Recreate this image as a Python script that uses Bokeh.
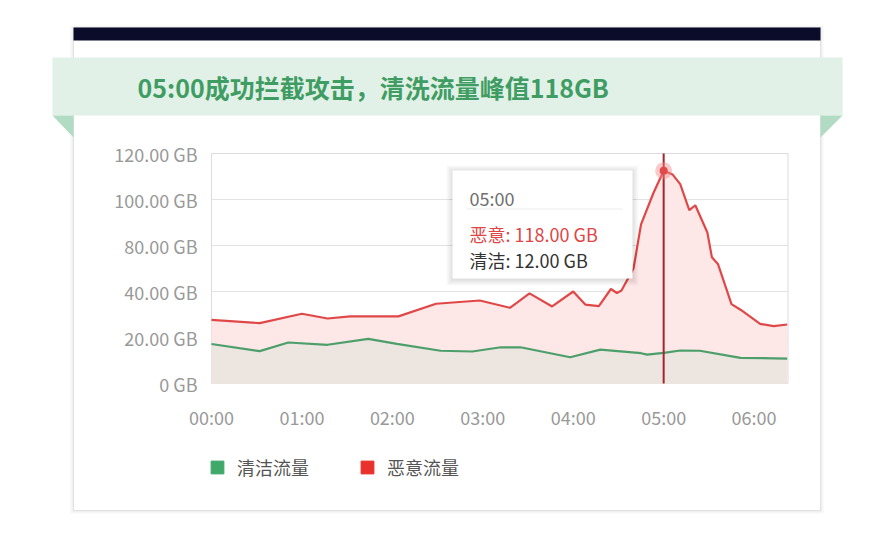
from bokeh.plotting import figure
from bokeh.models import (Legend, LegendItem, FixedTicker, Range1d, LinearAxis)
from bokeh.core.properties import value
from bokeh.embed import file_html
from bokeh.resources import INLINE

FONT = "Noto Sans CJK SC"

# traffic (minutes after 00:00, GB)
bad_minutes = [0, 32, 60, 77, 92, 124, 149, 178, 198, 211, 226, 240, 248, 257, 265, 269, 272,
               280, 285, 293, 300, 306, 311, 317, 321, 329, 332, 336, 345, 351, 364, 373, 382]
bad_gb = [33.2, 31.5, 36.4, 33.9, 35.0, 35.0, 41.6, 43.3, 39.5, 47.0, 40.2, 48.0, 41.2, 40.4,
          49.3, 47.2, 48.5, 60.0, 83.0, 99.0, 111.0, 109.0, 104.0, 90.5, 93.0, 78.8, 65.9, 62.4,
          41.4, 38.5, 31.1, 29.9, 30.8]
clean_minutes = [0, 32, 51, 77, 104, 123, 152, 173, 192, 205, 238, 258, 285, 289, 300, 311,
                 324, 351, 382]
clean_gb = [20.6, 16.9, 21.4, 20.2, 23.3, 20.7, 17.1, 16.7, 18.9, 18.9, 13.7, 17.7, 15.8, 15.1,
            16.0, 17.2, 17.1, 13.4, 13.0]

peak_minute = 300
peak_gb = 111.0

x_ticks = [0, 60, 120, 180, 240, 300, 360]
x_labels = ["00:00", "01:00", "02:00", "03:00", "04:00", "05:00", "06:00"]
y_ticks = [0, 24, 48, 72, 96, 120]
y_labels = ["0 GB", "20.00 GB", "40.00 GB", "80.00 GB", "100.00 GB", "120.00 GB"]

headline = "05:00成功拦截攻击，清洗流量峰值118GB"
tip_time = "05:00"
tip_bad = "恶意: 118.00 GB"
tip_clean = "清洁: 12.00 GB"
legend_names = ["清洁流量", "恶意流量"]

# page layout in pixels
W, H = 853, 517
CH_L, CH_R, CH_T, CH_B = 211, 787.5, 153, 383
X_MAX, Y_MAX = 382.5, 120

px_x = (CH_R - CH_L) / X_MAX
px_y = (CH_B - CH_T) / Y_MAX

p = figure(width=W, height=H, output_backend="svg", toolbar_location=None, title=None,
           x_axis_type=None, y_axis_type=None, min_border=0,
           x_range=Range1d(0, W), y_range=Range1d(H, 0))
p.outline_line_color = None
p.background_fill_color = "white"
p.border_fill_color = "white"
p.extra_x_ranges = {"t": Range1d(-CH_L / px_x, X_MAX + (W - CH_R) / px_x)}
p.extra_y_ranges = {"gb": Range1d(-(H - CH_B) / px_y, Y_MAX + CH_T / px_y)}

# card with soft shadow, dark strip, green ribbon
for i, a in enumerate([0.06, 0.035, 0.015]):
    p.quad(left=73 - i - 1, right=820 + i + 1, top=27 - i, bottom=510 + i + 1,
           fill_color=None, line_color="black", line_alpha=a)
p.quad(left=73, right=820, top=27, bottom=510, fill_color="white", line_color="#e2e2e2")
p.quad(left=73, right=820, top=27, bottom=40, fill_color="#0b0c2a", line_color=None)
p.quad(left=52, right=842, top=57, bottom=115, fill_color="#e2f1e7", line_color=None)
p.patches(xs=[[52, 73, 73], [820, 842, 820]], ys=[[115, 115, 137], [115, 115, 137]],
          fill_color="#b2dbc3", line_color=None)
p.text(x=[137], y=[86], text=[headline], text_font=value(FONT), text_font_size="25px",
       text_font_style="bold", text_color="#3f9d64", text_baseline="middle")

# chart frame and grid
p.segment(x0=0, x1=X_MAX, y0=y_ticks, y1=y_ticks, line_color="#e3e3e3", line_width=1,
          x_range_name="t", y_range_name="gb")
p.quad(left=0, right=X_MAX, bottom=0, top=Y_MAX, fill_color=None, line_color="#dcdcdc",
       x_range_name="t", y_range_name="gb")

# areas and lines
p.varea(x=bad_minutes, y1=0, y2=bad_gb, fill_color="#fde7e7",
        x_range_name="t", y_range_name="gb")
p.varea(x=clean_minutes, y1=0, y2=clean_gb, fill_color="#ece5e0",
        x_range_name="t", y_range_name="gb")
p.line(bad_minutes, bad_gb, line_color="#e04848", line_width=2.2,
       x_range_name="t", y_range_name="gb")
p.line(clean_minutes, clean_gb, line_color="#4c9e6b", line_width=2.2,
       x_range_name="t", y_range_name="gb")

p.segment(x0=[peak_minute], x1=[peak_minute], y0=[0], y1=[Y_MAX], line_color="#a3262c",
          line_width=2, x_range_name="t", y_range_name="gb")
p.scatter([peak_minute], [peak_gb], size=17, fill_color="#f08a8a", fill_alpha=0.45,
          line_color=None, x_range_name="t", y_range_name="gb")
p.scatter([peak_minute], [peak_gb], size=8, fill_color="#e24a4a", line_color=None,
          x_range_name="t", y_range_name="gb")

# tooltip
for i in range(1, 7):
    p.quad(left=452 - i, right=632 + i, top=170 - i + 1, bottom=278 + i + 1,
           fill_color="black", fill_alpha=0.02, line_color=None)
p.quad(left=452, right=632, top=170, bottom=278, fill_color="white", line_color=None)
p.segment(x0=[466], x1=[622], y0=[208.5], y1=[208.5], line_color="#ececec", line_width=1)
p.text(x=[469, 469, 469], y=[197, 233, 259], text=[tip_time, tip_bad, tip_clean],
       text_color=["#707070", "#e04545", "#333333"], text_font=value(FONT),
       text_font_size="18px", text_baseline="middle")

# axes, pinned to the chart's edges
xaxis = LinearAxis(x_range_name="t", fixed_location=CH_B, ticker=FixedTicker(ticks=x_ticks),
                   major_label_overrides=dict(zip(x_ticks, x_labels)))
yaxis = LinearAxis(y_range_name="gb", fixed_location=CH_L, ticker=FixedTicker(ticks=y_ticks),
                   major_label_overrides=dict(zip(y_ticks, y_labels)))
for ax in (xaxis, yaxis):
    ax.axis_line_color = None
    ax.major_tick_line_color = None
    ax.minor_tick_line_color = None
    ax.major_tick_out = 0
    ax.major_tick_in = 0
    ax.minor_tick_out = 0
    ax.major_label_text_font = FONT
    ax.major_label_text_font_size = "18px"
    ax.major_label_text_color = "#999999"
xaxis.major_label_standoff = 20
yaxis.major_label_standoff = 14
p.add_layout(xaxis, "below")
p.add_layout(yaxis, "left")

# legend, swatches come from two placeholder renderers that draw nothing
nan = float("nan")
g_proxy = p.quad(left=[nan], right=[nan], top=[nan], bottom=[nan],
                 fill_color="#3fa96a", line_color="#3fa96a")
r_proxy = p.quad(left=[nan], right=[nan], top=[nan], bottom=[nan],
                 fill_color="#e8302c", line_color="#e8302c")
legend = Legend(items=[LegendItem(label=legend_names[0], renderers=[g_proxy]),
                       LegendItem(label=legend_names[1], renderers=[r_proxy])],
                orientation="horizontal", location=(209, 37), padding=0, margin=0, spacing=50,
                glyph_width=16, glyph_height=16, label_standoff=12, label_height=16,
                border_line_color=None, background_fill_alpha=0,
                label_text_font=FONT, label_text_font_size="18px", label_text_color="#555555")
p.add_layout(legend)

open("out.html", "w").write(file_html(p, INLINE))
